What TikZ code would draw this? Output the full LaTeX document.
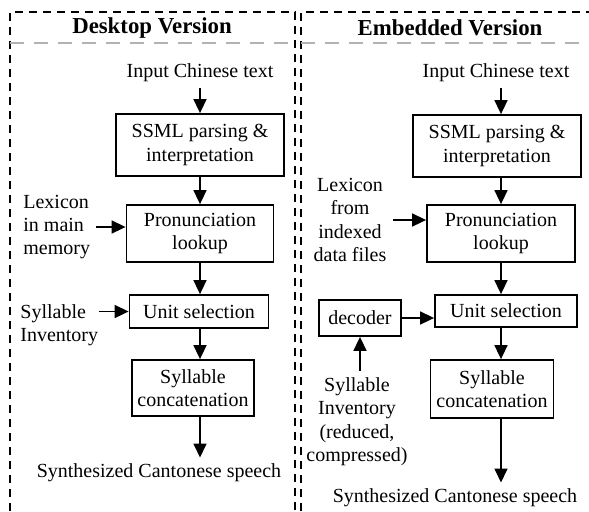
\documentclass[tikz,border=0pt]{standalone}
\usepackage{fontspec}
\setmainfont{Liberation Serif}
\usetikzlibrary{arrows.meta, positioning}

\begin{document}
\begin{tikzpicture}[
    x=0.5pt, y=-0.5pt,
    box/.style={draw, line width=0.9pt, align=center, inner sep=2pt},
    txt/.style={align=center, inner sep=3pt},
    head/.style={font=\fontsize{11.4}{13}\selectfont\bfseries},
    arr/.style={-{Triangle[length=7pt, width=6.5pt]}, line width=0.8pt},
    frame/.style={draw, line width=0.8pt, dash pattern=on 4pt off 3pt},
    hdrline/.style={draw, gray!60, line width=0.8pt, dash pattern=on 7pt off 5pt},
    every node/.append style={font=\fontsize{10}{11.7}\selectfont},
]
\useasboundingbox (0,0) rectangle (589,511);

% Panels
\draw[frame] (10,511) -- (10,12) -- (295,12) -- (295,511);
\draw[frame] (301,511) -- (301,12) -- (589,12);
\draw[hdrline] (10,43) -- (295,43);
\draw[hdrline] (301,43) -- (589,43);
\node[head] (h1) at (152,28) {Desktop Version};
\node[head] (h2) at (450,28) {Embedded Version};

% Desktop version
\coordinate (col1) at (200,0);
\node[txt] (in1) at (200,73) {Input Chinese text};
\node[box, minimum width=84pt, minimum height=31pt] (ssml1) at (200,145) {SSML parsing \&\\interpretation};
\node[box, minimum width=73.5pt, minimum height=28.5pt] (pron1) at (200,233.5) {Pronunciation\\lookup};
\node[box, minimum width=69.5pt, minimum height=16.5pt] (unit1) at (199,311.5) {Unit selection};
\node[box, minimum width=61pt, minimum height=28pt] (cat1) at (193,388) {Syllable\\concatenation};
\node[txt] (out1) at (159,473) {Synthesized Cantonese speech};
\node[txt, align=left, anchor=west] (lex1) at (17,227) {Lexicon\\in main\\memory};
\node[txt, align=left, anchor=west, inner sep=0pt] (syl1) at (20,325) {Syllable\\Inventory};

\foreach \a/\b in {in1/ssml1, ssml1/pron1, pron1/unit1, unit1/cat1, cat1/out1} {
    \draw[arr] (\a.south -| col1) -- (\b.north -| col1);
}
\draw[arr] (lex1.east) -- (lex1.east -| pron1.west);
\draw[arr] (syl1.east |- unit1.west) -- (unit1.west);

% Embedded version
\coordinate (col2) at (501,0);
\node[txt] (in2) at (496,73) {Input Chinese text};
\node[box, minimum width=84pt, minimum height=31pt] (ssml2) at (497,146) {SSML parsing \&\\interpretation};
\node[box, minimum width=74pt, minimum height=28.5pt] (pron2) at (501,233.5) {Pronunciation\\lookup};
\node[box, minimum width=71pt, minimum height=16pt] (unit2) at (506,311) {Unit selection};
\node[box, minimum width=61.5pt, minimum height=29pt] (cat2) at (492,389) {Syllable\\concatenation};
\node[txt] (out2) at (455,498) {Synthesized Cantonese speech};
\node[txt] (lex2) at (350,220) {Lexicon\\from\\indexed\\data files};
\node[box, minimum width=41pt, minimum height=18pt] (dec2) at (360,318) {decoder};
\node[txt] (syl2) at (357,421.5) {Syllable\\Inventory\\(reduced,\\compressed)};

\foreach \a/\b in {in2/ssml2, ssml2/pron2, pron2/unit2, unit2/cat2, cat2/out2} {
    \draw[arr] (\a.south -| col2) -- (\b.north -| col2);
}
\draw[arr] (lex2.east) -- (lex2.east -| pron2.west);
\draw[arr] (dec2.east) -- (dec2.east -| unit2.west);
\draw[arr] (syl2.north -| dec2) -- (dec2.south);

\end{tikzpicture}
\end{document}
